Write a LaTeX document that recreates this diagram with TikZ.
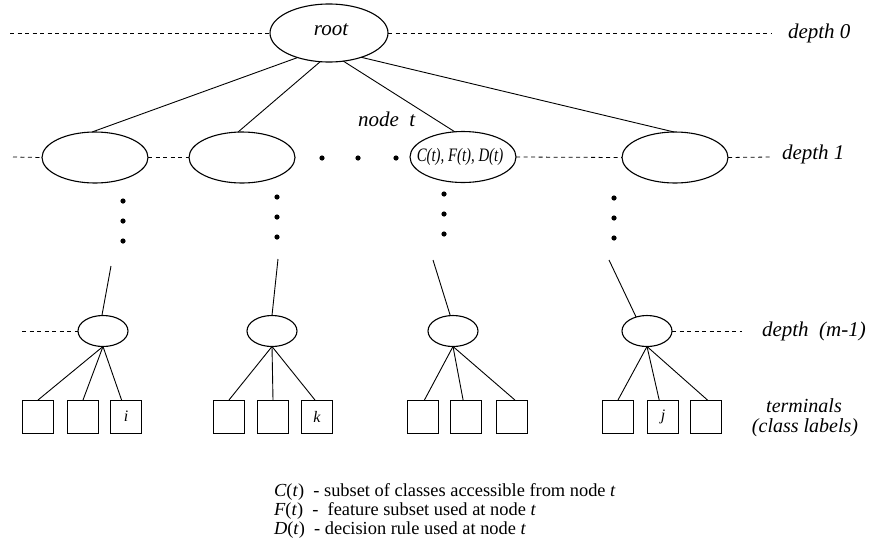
\documentclass[tikz,border=0pt]{standalone}
\usepackage{fontspec}
\setmainfont{Liberation Serif}
\usetikzlibrary{shapes.geometric}
\begin{document}
\begin{tikzpicture}[x=1pt,y=-1pt,
  every node/.style={inner sep=0pt,outer sep=0pt},
  rootell/.style={draw,ellipse,line width=1.1pt,minimum width=118pt,minimum height=58pt},
  midell/.style={draw,ellipse,line width=1.1pt,minimum width=106pt,minimum height=51pt},
  lowell/.style={draw,ellipse,line width=1.1pt,minimum width=50pt,minimum height=31pt},
  termbox/.style={draw,rectangle,line width=0.9pt,minimum width=31pt,minimum height=33pt,
    font=\fontsize{16}{18}\selectfont\itshape},
  edge/.style={line width=0.9pt},
  level/.style={line width=0.8pt,dash pattern=on 4pt off 3.5pt},
  lab/.style={font=\fontsize{21}{24}\selectfont\itshape},
  leg/.style={font=\fontsize{18.4}{20}\selectfont,anchor=base west},
  dotmark/.style={fill=black}]
\useasboundingbox (0,0) rectangle (872,544);

% root and depth-1 nodes
\node[rootell] (root) at (329,33) {};
\node[lab,anchor=base] (rootlab) at (331,35) {root};
\node[midell] (e1) at (95,157.5) {};
\node[midell] (e2) at (242,157.5) {};
\node[midell] (e3) at (463,157) {};
\node[midell] (e4) at (675,157.5) {};
\node[font=\fontsize{19}{21}\selectfont\itshape] (ctext) at (460,157)
  {\scalebox{0.78}[1]{C(t), F(t), D(t)}};
\node[lab,anchor=base west] (nodet) at (358,126) {node\ \ t};

% edges from the root
\draw[edge] (root.218) -- (e1.97);
\draw[edge] (root.253) -- (e2.99);
\draw[edge] (root.297) -- (e3.108);
\draw[edge] (root.323) -- (e4.92);

% level guide lines
\coordinate (d0l) at (10,33);
\coordinate (d0r) at (772,33);
\draw[level] (d0l) -- (root.west);
\draw[level] (root.east) -- (d0r);
\coordinate (d1l) at (13,157);
\coordinate (d1r) at (772,157);
\draw[level] (d1l) -- (e1.west);
\draw[level] (e1.east) -- (e2.west);
\draw[level] (e3.east) -- (e4.west);
\draw[level] (e4.east) -- (d1r);

\node[lab,anchor=base west] (dep0) at (788,38) {depth 0};
\node[lab,anchor=base west] (dep1) at (782,159) {depth 1};

% horizontal ellipsis between depth-1 nodes
\fill[dotmark] (322,158) circle (2.6pt);
\fill[dotmark] (358,158) circle (2.6pt);
\fill[dotmark] (396,158) circle (2.6pt);

% vertical ellipses below depth 1
\foreach \x/\a/\b/\c in {123/201/221/241, 277/197/217/237, 444/194/214/234, 614/198/218/238}{
  \fill[dotmark] (\x,\a) circle (2.6pt);
  \fill[dotmark] (\x,\b) circle (2.6pt);
  \fill[dotmark] (\x,\c) circle (2.6pt);
}

% depth (m-1) nodes
\node[lowell] (c1) at (103,331) {};
\node[lowell] (c2) at (272,331) {};
\node[lowell] (c3) at (453,331) {};
\node[lowell] (c4) at (647,331) {};
\coordinate (u1) at (111,266);
\coordinate (u2) at (278,259);
\coordinate (u3) at (433,260);
\coordinate (u4) at (609,260);
\draw[edge] (u1) -- (c1.94);
\draw[edge] (u2) -- (c2.90);
\draw[edge] (u3) -- (c3.100);
\draw[edge] (u4) -- (c4.128);

\coordinate (dml) at (22,331);
\coordinate (dmr) at (742,331);
\draw[level] (dml) -- (c1.west);
\draw[level] (c4.east) -- (dmr);
\node[lab,anchor=base west] (depm) at (762,336) {depth\ \ (m-1)};

% terminal nodes
\node[termbox] (t11) at (38,416.5) {};
\node[termbox] (t12) at (83,416.5) {};
\node[termbox] (t13) at (126,416.5) {i};
\node[termbox] (t21) at (229,416.5) {};
\node[termbox] (t22) at (273,416.5) {};
\node[termbox] (t23) at (317,416.5) {k};
\node[termbox] (t31) at (423,416.5) {};
\node[termbox] (t32) at (466,416.5) {};
\node[termbox] (t33) at (512,416.5) {};
\node[termbox] (t41) at (618,416.5) {};
\node[termbox] (t42) at (663,416.5) {j};
\node[termbox] (t43) at (706,416.5) {};

\draw[edge] (c1.south) -- (t11.north);
\draw[edge] (c1.south) -- (t12.north);
\draw[edge] (c1.south) -- (t13.105);
\draw[edge] (c2.south) -- (t21.north);
\draw[edge] (c2.south) -- (t22.north);
\draw[edge] (c2.south) -- (t23.97);
\draw[edge] (c3.south) -- (t31.85);
\draw[edge] (c3.south) -- (t32.100);
\draw[edge] (c3.south) -- (t33.80);
\draw[edge] (c4.south) -- (t41.north);
\draw[edge] (c4.south) -- (t42.103);
\draw[edge] (c4.south) -- (t43.85);

\node[lab,font=\fontsize{20}{22}\selectfont\itshape,anchor=base] (term1) at (804,412) {terminals};
\node[lab,font=\fontsize{20}{22}\selectfont\itshape,anchor=base] (term2) at (805,432) {(class labels)};

% legend
\node[leg] (leg1) at (274,496) {\textit{C}(\textit{t})\ \ - subset of classes accessible from node \textit{t}};
\node[leg] (leg2) at (274,515) {\textit{F}(\textit{t})\ \ -\ \ feature subset used at node \textit{t}};
\node[leg] (leg3) at (274,534) {\textit{D}(\textit{t})\ \ - decision rule used at node \textit{t}};
\end{tikzpicture}
\end{document}
